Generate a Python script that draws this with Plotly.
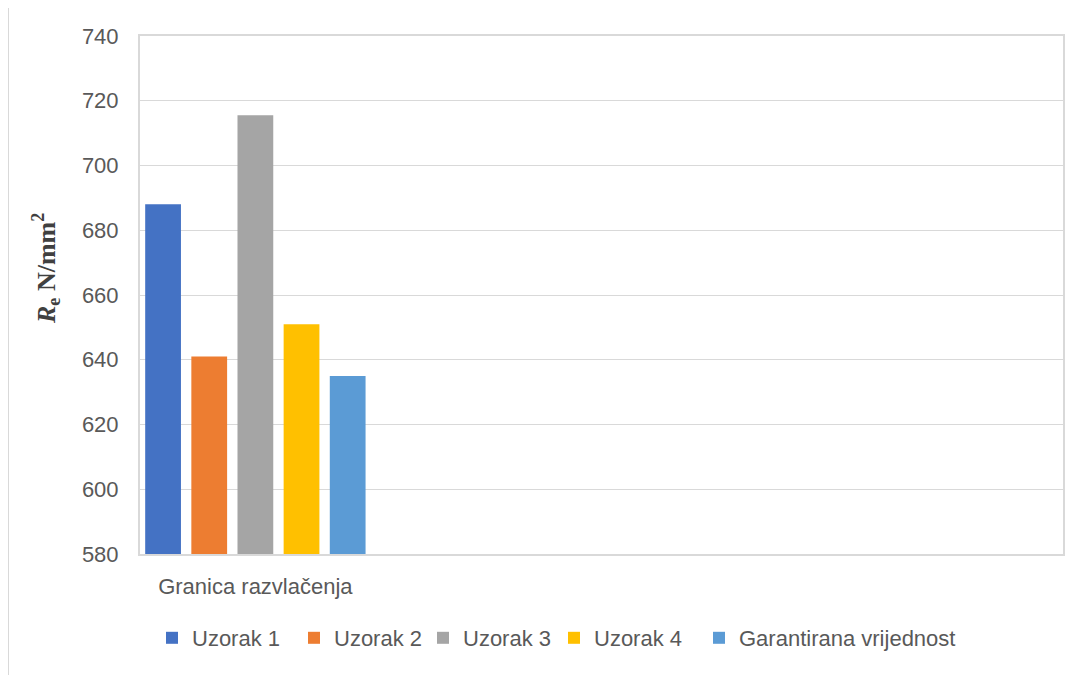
import plotly.graph_objects as go

categories = ["Granica razvlačenja"]
series_names = ["Uzorak 1", "Uzorak 2", "Uzorak 3", "Uzorak 4", "Garantirana vrijednost"]
series_values = [[688], [641], [715.5], [651], [635]]
colors = ["#4472C4", "#ED7D31", "#A5A5A5", "#FFC000", "#5B9BD5"]
y_ticks = [580, 600, 620, 640, 660, 680, 700, 720, 740]

OFF = 8  # page body margin
W, H = 1082 - OFF, 675 - OFF
# target plot area in screenshot coordinates: x 140..1063, y 36..554
L, T = 140 - OFF, 36 - OFF
R = W - (1063 - OFF)
B = H - (554 - OFF)
pw, ph = W - L - R, H - T - B

def px_x(x):
    return (x - OFF - L) / pw

def px_y(y):
    return 1 - (y - OFF - T) / ph

legend_sq_x = [166, 308, 437, 568, 713]  # legend swatch positions in the reference

fig = go.Figure()
legend_layouts = {}
for i, (name, vals, col) in enumerate(zip(series_names, series_values, colors)):
    lname = "legend" if i == 0 else f"legend{i + 1}"
    fig.add_trace(go.Bar(x=categories, y=vals, name=name, legend=lname,
                         marker=dict(color=col, line=dict(width=0))))
    legend_layouts[lname] = dict(orientation="h", x=px_x(legend_sq_x[i] - 14), xanchor="left",
                                 y=px_y(638), yanchor="middle", bgcolor="rgba(0,0,0,0)",
                                 font=dict(size=22, color="#595959"), itemwidth=30)

fig.update_layout(
    width=W, height=H,
    margin=dict(l=L, r=R, t=T, b=B),
    paper_bgcolor="white", plot_bgcolor="white",
    barmode="group", bargap=0.0, bargroupgap=0.225,
    font=dict(family="Liberation Sans", color="#595959", size=21),
    showlegend=True,
    xaxis=dict(type="category", range=[-0.5, 3.5], showgrid=False, zeroline=False,
               showline=True, linecolor="#D9D9D9", linewidth=2, mirror=True,
               ticks="", tickfont=dict(size=22, color="#595959"), ticklabelstandoff=12),
    yaxis=dict(range=[580, 740], tickvals=y_ticks, showgrid=True, gridcolor="#D9D9D9", gridwidth=1,
               zeroline=False, showline=True, linecolor="#D9D9D9", linewidth=2, mirror=True,
               ticks="", tickfont=dict(size=22, color="#595959"), ticklabelstandoff=15),
    **legend_layouts,
)

fig.add_annotation(
    text="<b><i>R</i><sub>e</sub> N/mm<sup>2</sup></b>",
    xref="paper", yref="paper", x=px_x(46), y=px_y(269), xanchor="center", yanchor="middle",
    textangle=-90, showarrow=False,
    font=dict(family="Liberation Serif", size=26, color="#404040"),
)

# outer chart frame (top and left edges visible)
fig.add_shape(type="line", xref="paper", yref="paper", x0=px_x(8), x1=px_x(1077), y0=px_y(7), y1=px_y(7),
              line=dict(color="#D9D9D9", width=2))
fig.add_shape(type="line", xref="paper", yref="paper", x0=px_x(8), x1=px_x(8), y0=px_y(7), y1=px_y(690),
              line=dict(color="#D9D9D9", width=2))

fig.write_html("out.html")
